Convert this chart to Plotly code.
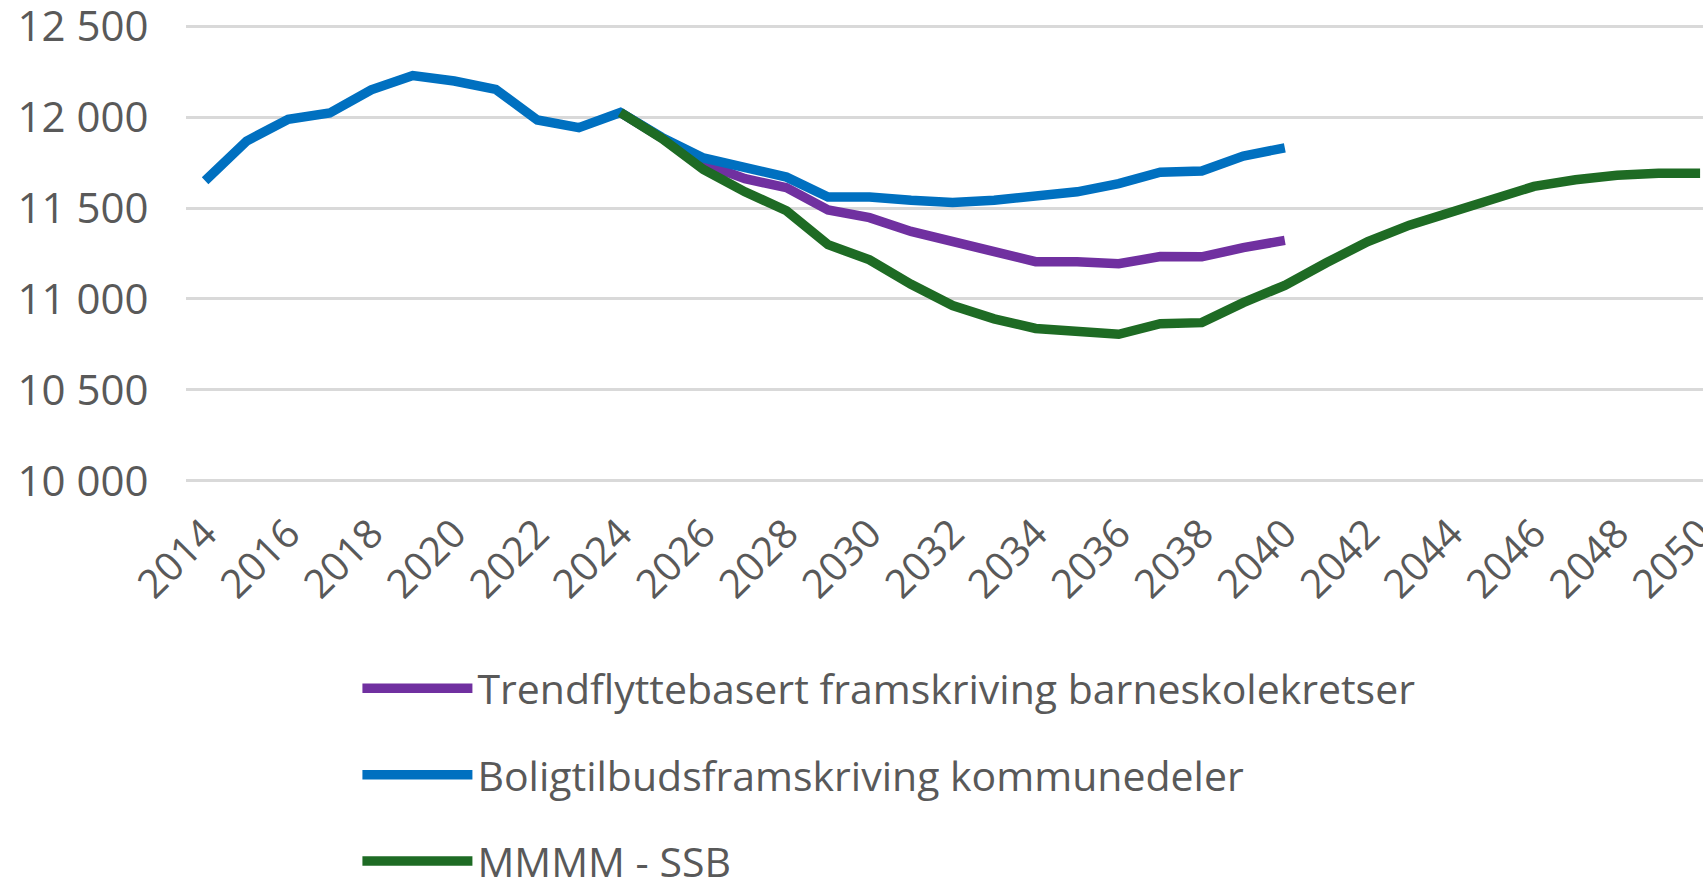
import plotly.graph_objects as go

years_trend = list(range(2024, 2041))
trend = [12025, 11882, 11745, 11661, 11612, 11489, 11447, 11371, 11317, 11263, 11205,
         11205, 11194, 11233, 11232, 11282, 11322]

years_bolig = list(range(2014, 2041))
bolig = [11650, 11868, 11988, 12022, 12150, 12228, 12198, 12152, 11984, 11942, 12025,
         11888, 11775, 11725, 11670, 11561, 11561, 11543, 11531, 11543, 11561, 11589,
         11634, 11697, 11704, 11786, 11831]

years_ssb = list(range(2024, 2051))
ssb = [12025, 11882, 11712, 11589, 11485, 11299, 11215, 11081, 10964, 10891, 10838,
       10822, 10806, 10864, 10870, 10980, 11075, 11199, 11316, 11406, 11478, 11559,
       11619, 11655, 11680, 11691, 11691]

names = ["Trendflyttebasert framskriving barneskolekretser",
         "Boligtilbudsframskriving kommunedeler",
         "MMMM - SSB"]
colors = ["#7030A0", "#0070C0", "#1E6B24"]

x_tick_vals = list(range(2014, 2051, 2))
x_tick_text = [str(v) for v in x_tick_vals]
y_tick_vals = [10000, 10500, 11000, 11500, 12000, 12500]
y_tick_text = ["10 000", "10 500", "11 000", "11 500", "12 000", "12 500"]

FONT = "Open Sans"
GREY = "#595959"

fig = go.Figure()
for xs, ys, nm, col in [(years_trend, trend, names[0], colors[0]),
                        (years_bolig, bolig, names[1], colors[1]),
                        (years_ssb, ssb, names[2], colors[2])]:
    fig.add_trace(go.Scatter(x=xs, y=ys, mode="lines", name=nm, legendgroup=nm,
                             line=dict(color=col, width=9.5), cliponaxis=False))

fig.update_layout(
    width=1703, height=881,
    margin=dict(l=186, r=0, t=25, b=399, autoexpand=False),
    paper_bgcolor="white", plot_bgcolor="white",
    font=dict(family=FONT, color=GREY, size=40),
    showlegend=True,
    legend=dict(x=0.113, y=-0.379, xanchor="left", yanchor="top",
                orientation="v", itemwidth=110, tracegroupgap=30,
                font=dict(family=FONT, size=41, color=GREY),
                bgcolor="rgba(0,0,0,0)"),
    xaxis=dict(range=[2013.54, 2050.07], tickmode="array", tickvals=x_tick_vals,
               ticktext=x_tick_text, tickangle=-45,
               showgrid=False, zeroline=False, showline=False,
               ticks="outside", ticklen=11, tickcolor="rgba(0,0,0,0)",
               ticklabeloverflow="allow", automargin=False,
               tickfont=dict(family=FONT, size=40, color=GREY)),
    yaxis=dict(range=[9994, 12506], tickmode="array", tickvals=y_tick_vals,
               ticktext=y_tick_text,
               showgrid=True, gridcolor="#D9D9D9", gridwidth=3, zeroline=False,
               showline=False, ticks="outside", ticklen=28,
               tickcolor="rgba(0,0,0,0)", ticklabeloverflow="allow",
               automargin=False,
               tickfont=dict(family=FONT, size=42, color=GREY)),
)

fig.write_html("out.html", config={"displayModeBar": False},
               post_script="document.body.style.margin='0';document.body.style.overflow='hidden';")
